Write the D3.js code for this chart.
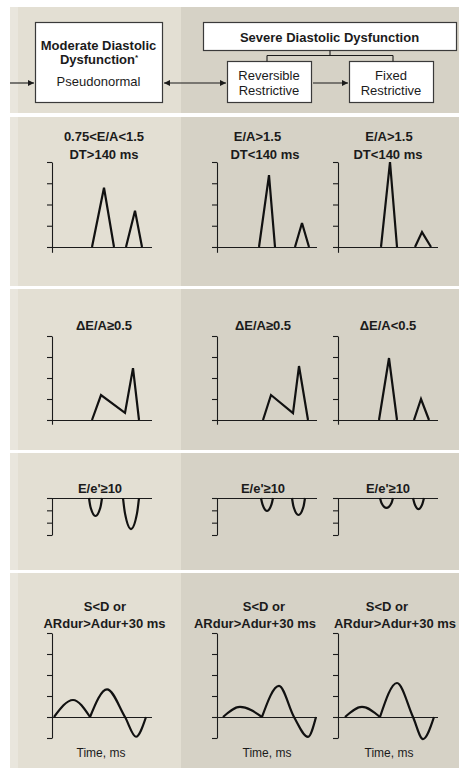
<!DOCTYPE html>
<html><head><meta charset="utf-8">
<script src="https://cdn.jsdelivr.net/npm/d3@7"></script>
<style>
body{margin:0;background:#fff}
svg{display:block}
text{font-family:"Liberation Sans",Arial,Helvetica,sans-serif;fill:#1b1b1b}
</style>
</head><body>
<svg id="c" width="459" height="768"></svg>
<script>
// ---------------- DATA ----------------
const moderateLabel = ["Moderate Diastolic", "Dysfunction", "Pseudonormal"];
const severeLabel = "Severe Diastolic Dysfunction";
const reversibleLabel = ["Reversible", "Restrictive"];
const fixedLabel = ["Fixed", "Restrictive"];

const inflowTitles = [["0.75<E/A<1.5", "DT>140 ms"], ["E/A>1.5", "DT<140 ms"], ["E/A>1.5", "DT<140 ms"]];
const inflowTicks = [0, 1, 2, 3, 4];
const inflowE = [
  [[40, 0], [52, 2.79], [62, 0]],
  [[42, 0], [52, 3.38], [58, 0]],
  [[43, 0], [52, 4.0], [59, 0]]
];
const inflowA = [
  [[74, 0], [83, 1.71], [90, 0]],
  [[78, 0], [85, 1.13], [92, 0]],
  [[77, 0], [84, 0.7], [93, 0]]
];

const valsalvaTitles = ["\u0394E/A\u22650.5", "\u0394E/A\u22650.5", "\u0394E/A<0.5"];
const valsalvaTicks = [0, 1, 2, 3, 4];
const valsalvaWaves = [
  [[[40, 0], [49, 1.19], [73, 0.34], [81, 2.47], [87, 0]]],
  [[[46, 0], [54, 1.19], [76, 0.33], [82, 2.57], [91, 0]]],
  [[[41, 0], [51, 2.95], [59, 0]], [[76, 0], [83, 1.0], [91, 0]]]
];

const tdiTitles = ["E/e'\u226510", "E/e'\u226510", "E/e'\u226510"];
const tdiTicks = [0, -1, -2, -3];
const tdiE = [
  [[37, 0], [38.5, -0.73], [43.5, -1.46], [48.5, -0.73], [50, 0]],
  [[44, 0], [45.5, -0.52], [50, -1.05], [54.5, -0.52], [56, 0]],
  [[42, 0], [43.5, -0.4], [48.5, -0.8], [53.5, -0.4], [55, 0]]
];
const tdiA = [
  [[71, 0], [73, -1.25], [79, -2.52], [85, -1.25], [87, 0]],
  [[75, 0], [76.5, -0.69], [81.5, -1.38], [86.5, -0.69], [88, 0]],
  [[75, 0], [76.5, -0.45], [80.5, -0.9], [84.5, -0.45], [86, 0]]
];

const pvTitles = [["S<D or", "ARdur>Adur+30 ms"], ["S<D or", "ARdur>Adur+30 ms"], ["S<D or", "ARdur>Adur+30 ms"]];
const pvTicks = [-1, 0, 1, 2, 3, 4];
const pvS = [
  [[2, 0], [21, 0.81], [38, 0]],
  [[6, 0], [23, 0.48], [45, 0]],
  [[7, 0], [24, 0.48], [42, 0]]
];
const pvDAR = [
  [[38, 0], [55, 1.32], [73, 0], [84, -0.94], [94, 0]],
  [[45, 0], [62, 1.48], [77, 0], [91, -0.95], [99, 0]],
  [[42, 0], [59, 1.62], [75, 0], [85, -1.05], [96, 0]]
];
const xAxisLabel = "Time, ms";

// ---------------- LAYOUT ----------------
const svg = d3.select("#c");
const W = 459, H = 768;
const ink = "#1b1b1b";
const lightBg = "#e3dfd3", darkBg = "#d6d2c6", stripBg = "#e9e6dd";
const splitX = 181;
const sections = [[7, 113], [117, 286], [289, 450], [453, 570], [573, 768]];

svg.append("rect").attr("width", W).attr("height", H).attr("fill", "#fff");
sections.forEach(([y0, y1]) => {
  svg.append("rect").attr("x", 10).attr("y", y0).attr("width", splitX - 10).attr("height", y1 - y0).attr("fill", lightBg);
  svg.append("rect").attr("x", 10).attr("y", y0).attr("width", 8).attr("height", y1 - y0).attr("fill", stripBg);
  svg.append("rect").attr("x", splitX).attr("y", y0).attr("width", W - splitX).attr("height", y1 - y0).attr("fill", darkBg);
});

// arrow marker
const defs = svg.append("defs");
defs.append("marker").attr("id", "ah").attr("viewBox", "0 0 10 10").attr("refX", 10).attr("refY", 5)
  .attr("markerWidth", 9).attr("markerHeight", 6).attr("markerUnits", "userSpaceOnUse").attr("orient", "auto-start-reverse")
  .append("path").attr("d", "M0,0L10,5L0,10Z").attr("fill", ink);

// ---- top flow diagram ----
const box = (x, y, w, h) => svg.append("rect").attr("x", x + 0.5).attr("y", y + 0.5).attr("width", w).attr("height", h)
  .attr("fill", "#fff").attr("stroke", "#3a3a3a").attr("stroke-width", 1.2);
box(35, 22, 127, 80);
box(203, 22, 253, 28);
box(227, 61, 84, 41);
box(349, 61, 84, 41);

const txt = (x, y, s, size, weight) => svg.append("text").attr("x", x).attr("y", y).attr("text-anchor", "middle")
  .attr("font-size", size).attr("font-weight", weight || "normal").text(s);

txt(98.5, 50, moderateLabel[0], 13, "bold");
const dys = txt(99, 64, moderateLabel[1], 13, "bold");
dys.append("tspan").attr("font-size", 8).attr("dy", -4).text("*");
txt(98.5, 86, moderateLabel[2], 13);
txt(329.5, 41.5, severeLabel, 13, "bold");
txt(269, 80, reversibleLabel[0], 13);
txt(269, 94.5, reversibleLabel[1], 13);
txt(391, 80, fixedLabel[0], 13);
txt(391, 94.5, fixedLabel[1], 13);

const ln = (x1, y1, x2, y2) => svg.append("line").attr("x1", x1).attr("y1", y1).attr("x2", x2).attr("y2", y2)
  .attr("stroke", ink).attr("stroke-width", 1.1);
ln(330, 50.5, 330, 55.5);
ln(267, 55.5, 393, 55.5);
ln(267, 55.5, 267, 61.5);
ln(393, 55.5, 393, 61.5);
ln(10, 83, 34, 83).attr("marker-end", "url(#ah)");
ln(164, 83, 226, 83).attr("marker-end", "url(#ah)").attr("marker-start", "url(#ah)");
ln(313, 83, 348, 83).attr("marker-end", "url(#ah)");

// ---- chart grid ----
const axisX = [52, 217, 338];
const xScales = axisX.map(a => d3.scaleLinear().domain([0, 100]).range([a, a + 100]));

const rowDefs = [
  {domain: [-0.25, 4], range: [252.3, 162], ticks: inflowTicks, curve: d3.curveLinear},
  {domain: [-0.2, 4], range: [424.2, 336], ticks: valsalvaTicks, curve: d3.curveLinear},
  {domain: [-3, 0], range: [535, 498], ticks: tdiTicks, curve: d3.curveMonotoneX},
  {domain: [-1, 4], range: [738, 633], ticks: pvTicks, curve: d3.curveMonotoneX}
];
const yScales = rowDefs.map(r => d3.scaleLinear().domain(r.domain).range(r.range));

function drawAxes(ri, c) {
  const y = yScales[ri], x = xScales[c];
  const g = svg.append("g").attr("transform", `translate(${axisX[c]},0)`)
    .call(d3.axisLeft(y).tickValues(rowDefs[ri].ticks).tickSize(5).tickSizeOuter(0).tickFormat(""));
  g.selectAll("path,line").attr("stroke", ink).attr("stroke-width", 1.1);
  svg.append("line").attr("x1", x(0)).attr("x2", x(100)).attr("y1", y(0) + 0.5).attr("y2", y(0) + 0.5)
    .attr("stroke", ink).attr("stroke-width", 1.1);
}
function drawWave(ri, c, pts) {
  const x = xScales[c], y = yScales[ri];
  const line = d3.line().x(d => x(d[0])).y(d => y(d[1])).curve(rowDefs[ri].curve);
  svg.append("path").attr("d", line(pts)).attr("fill", "none").attr("stroke", "#111")
    .attr("stroke-width", 2.2).attr("stroke-linejoin", "miter").attr("stroke-miterlimit", 3);
}

// titles layout
const titleX = [
  [[104, 104], [257.5, 265], [389, 388]],
  [[104], [263], [388]],
  [[100], [263], [388]],
  [[105, 104.5], [264, 255], [387, 395]]
];
const titleY = [[141, 158.6], [330], [493], [611, 627.6]];
const labelX = [101, 267, 389];

[0, 1, 2].forEach(c => {
  // row 1 inflow
  drawAxes(0, c);
  drawWave(0, c, inflowE[c]);
  drawWave(0, c, inflowA[c]);
  inflowTitles[c].forEach((s, i) => txt(titleX[0][c][i], titleY[0][i], s, 13, "bold"));
  // row 2 valsalva
  drawAxes(1, c);
  valsalvaWaves[c].forEach(w => drawWave(1, c, w));
  txt(titleX[1][c][0], titleY[1][0], valsalvaTitles[c], 13, "bold");
  // row 3 tissue doppler
  drawAxes(2, c);
  drawWave(2, c, tdiE[c]);
  drawWave(2, c, tdiA[c]);
  txt(titleX[2][c][0], titleY[2][0], tdiTitles[c], 13, "bold");
  // row 4 pulmonary vein
  drawAxes(3, c);
  drawWave(3, c, pvS[c]);
  drawWave(3, c, pvDAR[c]);
  pvTitles[c].forEach((s, i) => txt(titleX[3][c][i], titleY[3][i], s, 13, "bold"));
  txt(labelX[c], 757, xAxisLabel, 12);
});
</script>
</body></html>
